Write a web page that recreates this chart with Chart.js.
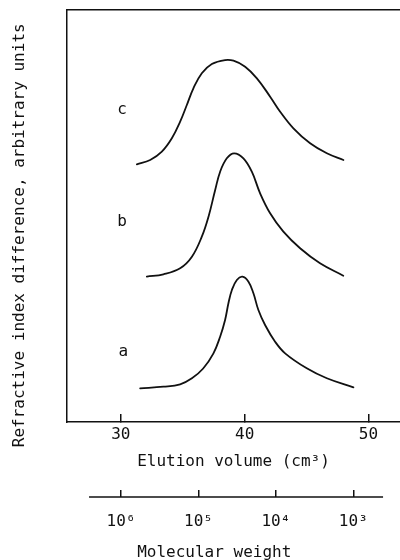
<!DOCTYPE html>
<html><head><meta charset="utf-8">
<script src="https://cdn.jsdelivr.net/npm/chart.js@4"></script>
<style>html,body{margin:0;padding:0;background:#fff;}canvas{display:block;}</style>
</head><body>
<canvas id="c" width="400" height="560"></canvas>
<script>
// ---- data (elution volume in cm3, refractive index difference in arbitrary units, offset per trace) ----
const curveNames = ['a', 'b', 'c'];
const aX = [31.56, 33.44, 34.79, 35.74, 36.65, 37.48, 38.02, 38.42, 38.69, 38.97, 39.37, 39.82, 40.31, 40.71, 41.11, 41.65, 42.46, 43.27, 45.02, 46.64, 48.79];
const aY = [8.18, 8.57, 9.15, 10.61, 12.99, 16.67, 20.70, 24.76, 28.81, 32.04, 34.47, 35.27, 34.05, 31.24, 27.18, 23.54, 19.49, 16.67, 13.03, 10.61, 8.42];
const bX = [32.10, 33.44, 34.79, 35.74, 36.54, 37.08, 37.62, 38.02, 38.56, 39.15, 39.90, 40.58, 41.25, 42.06, 43.13, 44.48, 46.09, 47.97];
const bY = [35.27, 35.85, 37.31, 40.12, 44.98, 49.83, 56.31, 60.75, 64.00, 65.22, 64.00, 60.75, 55.51, 50.66, 46.19, 42.16, 38.52, 35.51];
const cX = [31.29, 32.37, 33.31, 34.12, 34.79, 35.33, 35.86, 36.54, 37.35, 38.42, 39.10, 40.04, 40.99, 42.06, 42.87, 43.94, 45.29, 46.64, 47.98];
const cY = [62.55, 63.59, 65.61, 68.86, 72.89, 76.94, 81.00, 84.64, 86.89, 87.86, 87.69, 86.24, 83.42, 78.96, 75.32, 71.29, 67.65, 65.22, 63.59];
const labelX = [30.2, 30.1, 30.1];
const labelY = [17.1, 48.6, 75.7];
const volumeTicks = [30, 40, 50];
const molTicks = [1e6, 1e5, 1e4, 1e3];
const molTickLabels = ['10⁶', '10⁵', '10⁴', '10³'];
const molAxisSpan = [2.59e6, 413];

const FONT = '"DejaVu Sans Mono", monospace';
const INK = '#111';

function pts(xs, ys) { return xs.map((x, i) => ({x: x, y: ys[i]})); }

const curveLabels = {
  id: 'curveLabels',
  afterDatasetsDraw(chart) {
    const ctx = chart.ctx, sx = chart.scales.x, sy = chart.scales.y;
    ctx.save();
    ctx.fillStyle = INK;
    ctx.font = '16px ' + FONT;
    ctx.textAlign = 'center';
    ctx.textBaseline = 'middle';
    curveNames.forEach((n, i) => ctx.fillText(n, sx.getPixelForValue(labelX[i]), sy.getPixelForValue(labelY[i])));
    ctx.restore();
  }
};
const molAxisLine = {
  id: 'molAxisLine',
  afterDraw(chart) {
    const s = chart.scales.x2, ctx = chart.ctx;
    ctx.save();
    ctx.strokeStyle = INK;
    ctx.lineWidth = 1.5;
    ctx.beginPath();
    ctx.moveTo(s.getPixelForValue(molAxisSpan[0]), s.top);
    ctx.lineTo(s.getPixelForValue(molAxisSpan[1]), s.top);
    ctx.stroke();
    ctx.restore();
  }
};

const lineStyle = {showLine: true, borderColor: INK, borderWidth: 1.8, pointRadius: 0, fill: false, tension: 0.4, borderCapStyle: 'round', borderJoinStyle: 'round'};

new Chart(document.getElementById('c'), {
  type: 'scatter',
  data: {
    datasets: [
      Object.assign({label: curveNames[0], data: pts(aX, aY)}, lineStyle),
      Object.assign({label: curveNames[1], data: pts(bX, bY)}, lineStyle),
      Object.assign({label: curveNames[2], data: pts(cX, cY)}, lineStyle)
    ]
  },
  options: {
    responsive: false,
    animation: false,
    layout: {padding: 0},
    plugins: {legend: {display: false}, tooltip: {enabled: false}},
    scales: {
      x: {
        type: 'linear', position: 'bottom', weight: 0, min: 25.65, max: 52.55,
        afterBuildTicks: s => { s.ticks = volumeTicks.map(v => ({value: v})); },
        afterFit: s => { s.height = 75; },
        grid: {display: true, drawOnChartArea: false, drawTicks: true, tickLength: -8, color: INK, lineWidth: 1.5},
        border: {display: true, color: INK, width: 1.5},
        ticks: {padding: 11, color: INK, font: {family: FONT, size: 16}, maxRotation: 0, autoSkip: false},
        title: {display: true, text: 'Elution volume (cm³)', color: INK, font: {family: FONT, size: 16}, padding: {top: 0, bottom: 26}}
      },
      x2: {
        type: 'logarithmic', position: 'bottom', weight: 1, reverse: true, min: 249.5, max: 4.99e6,
        afterBuildTicks: s => { s.ticks = molTicks.map(v => ({value: v})); },
        afterFit: s => { s.height = 63; },
        grid: {display: true, drawOnChartArea: false, drawTicks: true, tickLength: -7, color: INK, lineWidth: 1.5},
        border: {display: false},
        ticks: {padding: 22, color: INK, font: {family: FONT, size: 16}, maxRotation: 0, autoSkip: false,
          callback: v => { const i = molTicks.indexOf(v); return i >= 0 ? molTickLabels[i] : ''; }},
        title: {display: true, text: 'Molecular weight    ', color: INK, font: {family: FONT, size: 16}, padding: {top: 0, bottom: -2}}
      },
      xt: {
        type: 'linear', position: 'top', min: 25.65, max: 52.55,
        afterFit: s => { s.height = 10; },
        grid: {display: false},
        ticks: {display: false},
        border: {display: true, color: INK, width: 1.5}
      },
      y: {
        type: 'linear', position: 'left', min: 0, max: 100,
        afterFit: s => { s.width = 67; },
        grid: {display: false},
        ticks: {display: false},
        border: {display: true, color: INK, width: 1.5},
        title: {display: true, text: 'Refractive index difference, arbitrary units    ', color: INK, font: {family: FONT, size: 16}, padding: {top: 10, bottom: 0}}
      }
    }
  },
  plugins: [curveLabels, molAxisLine]
});
</script>
</body></html>
